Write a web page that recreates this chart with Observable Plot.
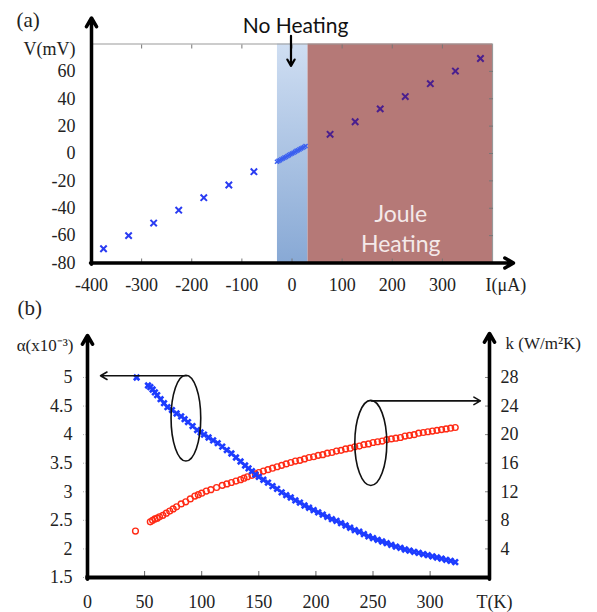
<!DOCTYPE html>
<html><head><meta charset="utf-8">
<script src="https://cdn.jsdelivr.net/npm/d3@7"></script>
<script src="https://cdn.jsdelivr.net/npm/@observablehq/plot@0.6"></script>
<style>
body{margin:0;background:#fff;}
#chart{width:597px;}
#chart svg{display:block;overflow:visible;}
</style></head><body><div id="chart"></div>
<script>
// ---------- Panel (a) data ----------
const negI = [-376,-326,-276,-226,-176,-126,-76];
const negV = [-69.6,-60.0,-50.8,-41.4,-32.3,-23.0,-13.3];
const posI = [76,126,176,226,276,326,376];
const posV = [14.0,23.2,32.6,41.6,51.0,60.2,69.4];
const lowI = [-30,-27,-24,-21,-18,-15,-12,-9,-6,-3,0,3,6,9,12,15,18,21,24,27];
const lowV = [-6.0,-5.4,-4.9,-4.2,-3.6,-3.0,-2.5,-1.8,-1.2,-0.6,0.0,0.6,1.2,1.9,2.4,3.0,3.7,4.2,4.8,5.5];
const aXTicks = [-400,-300,-200,-100,0,100,200,300];
const aXTicksAll = [-300,-200,-100,0,100,200,300];
const aYTicks = [-80,-60,-40,-20,0,20,40,60];
const aYTicksInner = [-60,-40,-20,0,20,40,60];
const regionNames = ["No Heating","Joule Heating"];
const regionStart = [-29, 32];
const regionEnd = [32, 400];

// ---------- Panel (b) data ----------
const tAlpha = [43,53,55,57,59,61,64,67,70,74,78,82,85,88,92,96,99,102,106,110,114,118,122,126,130,134,138,141,144,147,150,154,158,162,166,170,174,178,182,186,190,194,198,202,206,210,214,218,222,226,230,234,238,242,246,250,254,258,262,266,270,274,278,282,286,290,294,298,302,306,310,314,318,322];
const alphaVals = [5.00,4.86,4.83,4.79,4.74,4.69,4.62,4.55,4.48,4.43,4.37,4.32,4.27,4.22,4.15,4.08,4.04,4.00,3.95,3.90,3.85,3.79,3.73,3.67,3.60,3.53,3.46,3.41,3.36,3.30,3.26,3.21,3.16,3.10,3.05,2.99,2.94,2.90,2.85,2.81,2.76,2.72,2.68,2.64,2.60,2.56,2.52,2.49,2.45,2.41,2.37,2.33,2.30,2.26,2.22,2.19,2.16,2.13,2.10,2.07,2.04,2.02,1.99,1.97,1.95,1.93,1.91,1.89,1.87,1.85,1.83,1.81,1.79,1.77];
const tK = [42,55,57,59,61,63,66,69,72,75,78,82,86,90,94,97,100,104,108,113,118,122,126,130,134,137,140,144,147,150,154,158,162,166,170,174,178,182,186,190,194,198,202,206,210,214,218,222,226,230,234,238,242,246,250,254,258,262,266,270,274,278,282,286,290,294,298,302,306,310,314,318,322];
const kVals = [6.5,7.8,8.0,8.2,8.3,8.5,8.7,9.0,9.3,9.6,9.9,10.3,10.6,11.0,11.4,11.6,11.8,12.1,12.3,12.6,12.9,13.1,13.3,13.5,13.7,13.9,14.1,14.3,14.5,14.7,14.9,15.1,15.3,15.5,15.7,15.9,16.1,16.3,16.4,16.6,16.8,16.9,17.1,17.2,17.4,17.5,17.7,17.8,18.0,18.1,18.3,18.4,18.6,18.7,18.9,19.0,19.1,19.3,19.4,19.5,19.6,19.8,19.9,20.0,20.2,20.3,20.4,20.5,20.6,20.7,20.8,20.9,21.0];
const bXTicks = [0,50,100,150,200,250,300];
const bAlphaTicks = [1.5,2,2.5,3,3.5,4,4.5,5];
const bKTicks = [4,8,12,16,20,24,28];

// ---------- helpers ----------
const serif = "'Liberation Serif', 'Times New Roman', serif";
const sans = "Lato, 'Open Sans', sans-serif";
const kToY = k => 1.5 + k / 8;   // right axis k maps onto the α axis (28 ↔ 5, 0 ↔ 1.5)

const negPts = negI.map((I, i) => ({I, V: negV[i]}));
const posPts = posI.map((I, i) => ({I, V: posV[i]}));
const lowPts = lowI.map((I, i) => ({I, V: lowV[i]}));
const regions = regionNames.map((name, i) => ({name, I1: regionStart[i], I2: regionEnd[i], V1: -80, V2: 80}));

const alphaPts = tAlpha.map((T, i) => ({T, a: alphaVals[i]}));
const kPts = tK.map((T, i) => ({T, k: kVals[i]}));

const gradientDefs = () => {
  const defs = d3.create("svg:defs");
  const lg = defs.append("linearGradient").attr("id", "noheat").attr("x1", 0).attr("y1", 0).attr("x2", 0).attr("y2", 1);
  lg.append("stop").attr("offset", "0%").attr("stop-color", "#cfdef2");
  lg.append("stop").attr("offset", "100%").attr("stop-color", "#88a9d5");
  return defs.node();
};

const ellipseMark = (list) => (index, scales) => {
  const g = d3.create("svg:g").attr("fill", "none").attr("stroke", "#111").attr("stroke-width", 1.6);
  for (const e of list) {
    const cx = scales.x(e.T), cy = scales.y(e.a);
    g.append("ellipse").attr("cx", cx).attr("cy", cy)
      .attr("rx", Math.abs(scales.x(e.T + e.rT) - cx))
      .attr("ry", Math.abs(scales.y(e.a + e.ra) - cy));
  }
  return g.node();
};

const S = {fontFamily: serif, fill: "#222"};

// ---------- Panel (a) ----------
const plotA = Plot.plot({
  width: 597, height: 298,
  marginLeft: 91, marginRight: 105, marginTop: 43.5, marginBottom: 35.5,
  x: {domain: [-400, 400]},
  y: {domain: [-80, 80]},
  style: {fontFamily: serif, fontSize: "18px", color: "#222", background: "transparent", overflow: "visible"},
  marks: [
    gradientDefs,
    Plot.rect(regions, {x1: "I1", x2: "I2", y1: "V1", y2: "V2", fill: d => d.name === "No Heating" ? "url(#noheat)" : "#b57977"}),
    Plot.ruleY([80], {stroke: "#9a9a9a", strokeWidth: 1.2}),
    Plot.ruleX([400], {stroke: "#9a9a9a", strokeWidth: 1.2}),
    Plot.axisX(aXTicksAll, {anchor: "top", tickSize: 4, dy: 4, tickFormat: () => "", stroke: "#777"}),
    Plot.axisX(aXTicksAll, {anchor: "bottom", tickSize: 4, dy: -4, tickFormat: () => "", stroke: "#777"}),
    Plot.axisY(aYTicksInner, {anchor: "right", tickSize: 4, dx: -4, tickFormat: () => "", stroke: "#777"}),
    Plot.dot(lowPts, {x: "I", y: "V", symbol: "times", r: 2, stroke: "#3a5ff0", strokeWidth: 1.4}),
    Plot.dot(negPts, {x: "I", y: "V", symbol: "times", r: 3, stroke: "#2a3cf2", strokeWidth: 2}),
    Plot.dot(posPts, {x: "I", y: "V", symbol: "times", r: 3, stroke: "#4a1f8e", strokeWidth: 2}),
    Plot.arrow([{x1: -400, y1: -81, x2: -400, y2: 99}], {x1: "x1", y1: "y1", x2: "x2", y2: "y2", stroke: "#000", strokeWidth: 3.5, headLength: 4.3}),
    Plot.arrow([{x1: -402, y1: -80, x2: 442, y2: -80}], {x1: "x1", y1: "y1", x2: "x2", y2: "y2", stroke: "#000", strokeWidth: 3.5, headLength: 4.3}),
    Plot.arrow([{x1: -2, y1: 86, x2: -2, y2: 64}], {x1: "x1", y1: "y1", x2: "x2", y2: "y2", stroke: "#000", strokeWidth: 2.2, headLength: 5}),
    Plot.axisY(aYTicks, {anchor: "left", tickSize: 0, tickPadding: 16, fontSize: 18, ...S, tickFormat: d => String(d)}),
    Plot.axisX(aXTicks, {anchor: "bottom", tickSize: 0, tickPadding: 15, fontSize: 18, ...S, tickFormat: d => String(d)}),
    Plot.text(["(a)"], {frameAnchor: "top-left", dx: -75, dy: -23.5, textAnchor: "start", lineAnchor: "middle", fontSize: 21, ...S}),
    Plot.text(["V(mV)"], {frameAnchor: "top-left", dx: -16, dy: 5, textAnchor: "end", lineAnchor: "middle", fontSize: 18, ...S}),
    Plot.text(["I(μA)"], {frameAnchor: "bottom-right", dx: -7, dy: 22.5, textAnchor: "start", lineAnchor: "middle", fontSize: 18, ...S}),
    Plot.text(regions.filter(d => d.name === "No Heating"), {x: 7, y: 80, text: "name", dy: -17.5, textAnchor: "middle", lineAnchor: "middle", fontSize: 21, fontFamily: sans, fill: "#111"}),
    Plot.text(["Joule\nHeating"], {x: 217, y: -54, textAnchor: "middle", lineAnchor: "middle", lineHeight: 1.3, fontSize: 23, fontFamily: sans, fill: "#f4e9e9"})
  ]
});

// ---------- Panel (b) ----------
const plotB = Plot.plot({
  width: 597, height: 314,
  marginLeft: 87, marginRight: 108, marginTop: 50.4, marginBottom: 35,
  x: {domain: [0, 352]},
  y: {domain: [1.5, 5.5]},
  style: {fontFamily: serif, fontSize: "18px", color: "#222", background: "transparent", overflow: "visible"},
  marks: [
    Plot.axisY(bAlphaTicks, {anchor: "left", tickSize: 4, tickFormat: () => "", stroke: "#aaa", strokeDasharray: "1.5,1.5"}),
    Plot.axisX(bXTicks.slice(1), {anchor: "bottom", tickSize: 6, dy: -6, tickFormat: () => "", stroke: "#666"}),
    Plot.axisY(bKTicks.map(kToY), {anchor: "right", tickSize: 5, dx: -5, tickFormat: () => "", stroke: "#888"}),
    Plot.dot(kPts, {x: "T", y: d => kToY(d.k), r: 2.9, stroke: "#ff2a14", strokeWidth: 1.4, fill: "none"}),
    Plot.dot(alphaPts, {x: "T", y: "a", symbol: "times", r: 2.6, stroke: "#1d3cff", strokeWidth: 2.6}),
    ellipseMark([{T: 86.6, a: 4.28, rT: 13, ra: 0.75}, {T: 248.5, a: 3.845, rT: 14, ra: 0.745}]),
    Plot.arrow([{x1: 86.6, y1: 5.03, x2: 11.4, y2: 5.03}, {x1: 248.5, y1: 4.59, x2: 344, y2: 4.59}], {x1: "x1", y1: "y1", x2: "x2", y2: "y2", stroke: "#111", strokeWidth: 1.6, headLength: 7}),
    Plot.ruleY([1.5], {x1: -1.5, x2: 352, stroke: "#000", strokeWidth: 4}),
    Plot.arrow([{x1: 0, y1: 1.47, x2: 0, y2: 5.735}, {x1: 352, y1: 1.47, x2: 352, y2: 5.77}], {x1: "x1", y1: "y1", x2: "x2", y2: "y2", stroke: "#000", strokeWidth: 3.6, headLength: 4.2}),
    Plot.axisY(bAlphaTicks, {anchor: "left", tickSize: 0, tickPadding: 15, fontSize: 18, ...S, tickFormat: d => String(d)}),
    Plot.axisY(bKTicks.map(kToY), {anchor: "right", tickSize: 0, tickPadding: 11, fontSize: 18, ...S, tickFormat: y => String(Math.round((y - 1.5) * 8))}),
    Plot.axisX(bXTicks, {anchor: "bottom", tickSize: 0, tickPadding: 18, fontSize: 18, ...S, tickFormat: d => String(d)}),
    Plot.text(["(b)"], {frameAnchor: "top-left", dx: -70, dy: -40.4, textAnchor: "start", lineAnchor: "middle", fontSize: 21, ...S}),
    Plot.text(["α(x10⁻³)"], {frameAnchor: "top-left", dx: -14, dy: -3.4, textAnchor: "end", lineAnchor: "middle", fontSize: 17, ...S}),
    Plot.text(["k (W/m²K)"], {frameAnchor: "top-right", dx: 16, dy: -5.4, textAnchor: "start", lineAnchor: "middle", fontSize: 17, ...S}),
    Plot.text(["T(K)"], {frameAnchor: "bottom-right", dx: 5, dy: 25, textAnchor: "middle", lineAnchor: "middle", fontSize: 18, ...S})
  ]
});

document.getElementById("chart").append(plotA, plotB);
</script>
</body></html>
